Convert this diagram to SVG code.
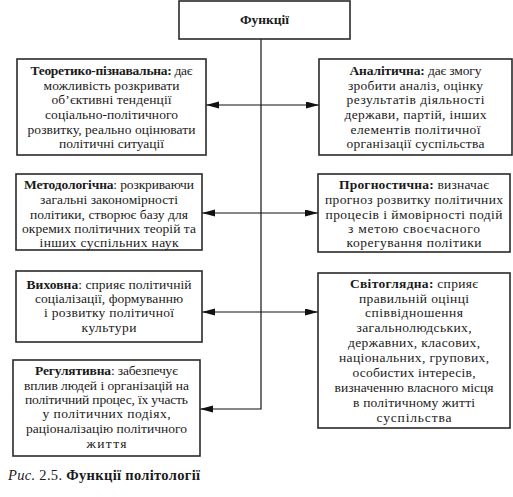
<svg xmlns="http://www.w3.org/2000/svg" width="513" height="497" viewBox="0 0 513 497">
<style>
.box{fill:#fff;stroke:#2a2a2a;stroke-width:1.6}
.t{font-family:"Liberation Serif","DejaVu Serif",serif;font-size:13.5px;fill:#1a1a1a;text-anchor:middle}
.b{font-weight:bold}
.ln{stroke:#111;stroke-width:1.2;fill:none}
</style>
<defs>
<marker id="ah" markerUnits="userSpaceOnUse" markerWidth="14" markerHeight="8" refX="13" refY="3.5" orient="auto-start-reverse">
<path d="M0,0 L13,3.5 L0,7 z" fill="#111"/>
</marker>
</defs>
<rect width="513" height="497" fill="#fff"/>
<g id="connectors">
<path class="ln" d="M206,105 H319" marker-start="url(#ah)" marker-end="url(#ah)"/>
<path class="ln" d="M202,213 H318" marker-start="url(#ah)" marker-end="url(#ah)"/>
<path class="ln" d="M202,312 H318" marker-start="url(#ah)" marker-end="url(#ah)"/>
<path class="ln" d="M261,39 V409 H200" marker-end="url(#ah)"/>
</g>
<g id="root">
<rect class="box" x="179" y="1" width="171" height="38"/>
<text class="t b" x="264.5" y="24">Функції</text>
</g>
<g id="teor">
<rect class="box" x="17" y="59" width="189" height="96"/>
<text class="t" x="111.5" y="75" textLength="162"><tspan class="b">Теоретико-пізнавальна:</tspan> дає</text>
<text class="t" x="111.5" y="89.5" textLength="136">можливість розкривати</text>
<text class="t" x="111.5" y="103.5" textLength="120">об’єктивні тенденції</text>
<text class="t" x="111.5" y="118.5" textLength="133">соціально-політичного</text>
<text class="t" x="111.5" y="133.5" textLength="168">розвитку, реально оцінювати</text>
<text class="t" x="111.5" y="148" textLength="105">політичні ситуації</text>
</g>
<g id="anal">
<rect class="box" x="319" y="59" width="193" height="96"/>
<text class="t" x="415.5" y="75" textLength="132"><tspan class="b">Аналітична:</tspan> дає змогу</text>
<text class="t" x="415.5" y="89.5" textLength="135">зробити аналіз, оцінку</text>
<text class="t" x="415.5" y="103.5" textLength="138">результатів діяльності</text>
<text class="t" x="415.5" y="118.5" textLength="142">держави, партій, інших</text>
<text class="t" x="415.5" y="133.5" textLength="130">елементів політичної</text>
<text class="t" x="415.5" y="148" textLength="138">організації суспільства</text>
</g>
<g id="metod">
<rect class="box" x="16" y="174" width="186" height="76"/>
<text class="t" x="109" y="189" textLength="170"><tspan class="b">Методологічна</tspan>: розкриваючи</text>
<text class="t" x="109" y="204" textLength="138">загальні закономірності</text>
<text class="t" x="109" y="218.5" textLength="158">політики, створює базу для</text>
<text class="t" x="109" y="233" textLength="174">окремих політичних теорій та</text>
<text class="t" x="109" y="247" textLength="139">інших суспільних наук</text>
</g>
<g id="prog">
<rect class="box" x="318" y="174" width="192" height="78"/>
<text class="t" x="414" y="189" textLength="150"><tspan class="b">Прогностична:</tspan> визначає</text>
<text class="t" x="414" y="204" textLength="178">прогноз розвитку політичних</text>
<text class="t" x="414" y="218.5" textLength="177">процесів і ймовірності подій</text>
<text class="t" x="414" y="233" textLength="132">з метою своєчасного</text>
<text class="t" x="414" y="247" textLength="135">корегування політики</text>
</g>
<g id="vykh">
<rect class="box" x="16" y="271" width="186" height="71"/>
<text class="t" x="109" y="288.5" textLength="165"><tspan class="b">Виховна</tspan>: сприяє політичній</text>
<text class="t" x="109" y="303" textLength="148">соціалізації, формуванню</text>
<text class="t" x="109" y="317" textLength="130">і розвитку політичної</text>
<text class="t" x="109" y="332" textLength="55">культури</text>
</g>
<g id="svit">
<rect class="box" x="318" y="273" width="192" height="155"/>
<text class="t" x="414" y="287.5" textLength="128"><tspan class="b">Світоглядна:</tspan> сприяє</text>
<text class="t" x="414" y="303" textLength="110">правильній оцінці</text>
<text class="t" x="414" y="316.5" textLength="98">співвідношення</text>
<text class="t" x="414" y="331.5" textLength="115">загальнолюдських,</text>
<text class="t" x="414" y="346.5" textLength="132">державних, класових,</text>
<text class="t" x="414" y="361.5" textLength="150">національних, групових,</text>
<text class="t" x="414" y="376.5" textLength="123">особистих інтересів,</text>
<text class="t" x="414" y="391.5" textLength="159">визначенню власного місця</text>
<text class="t" x="414" y="406.5" textLength="122">в політичному житті</text>
<text class="t" x="414" y="421.5" textLength="75">суспільства</text>
</g>
<g id="regul">
<rect class="box" x="13" y="360" width="187" height="96"/>
<text class="t" x="106.5" y="375" textLength="143"><tspan class="b">Регулятивна</tspan>: забезпечує</text>
<text class="t" x="106.5" y="389.5" textLength="165">вплив людей і організацій на</text>
<text class="t" x="106.5" y="403.5" textLength="163">політичний процес, їх участь</text>
<text class="t" x="106.5" y="418" textLength="128">у політичних подіях,</text>
<text class="t" x="106.5" y="433" textLength="161">раціоналізацію політичного</text>
<text class="t" x="106.5" y="448" textLength="40">життя</text>
</g>
<g id="caption">
<text x="8" y="480" textLength="192" style="font-family:'Liberation Serif','DejaVu Serif',serif;font-size:14.5px;fill:#1a1a1a"><tspan font-style="italic">Рис.</tspan> 2.5. <tspan font-weight="bold">Функції політології</tspan></text>
</g>
</svg>
